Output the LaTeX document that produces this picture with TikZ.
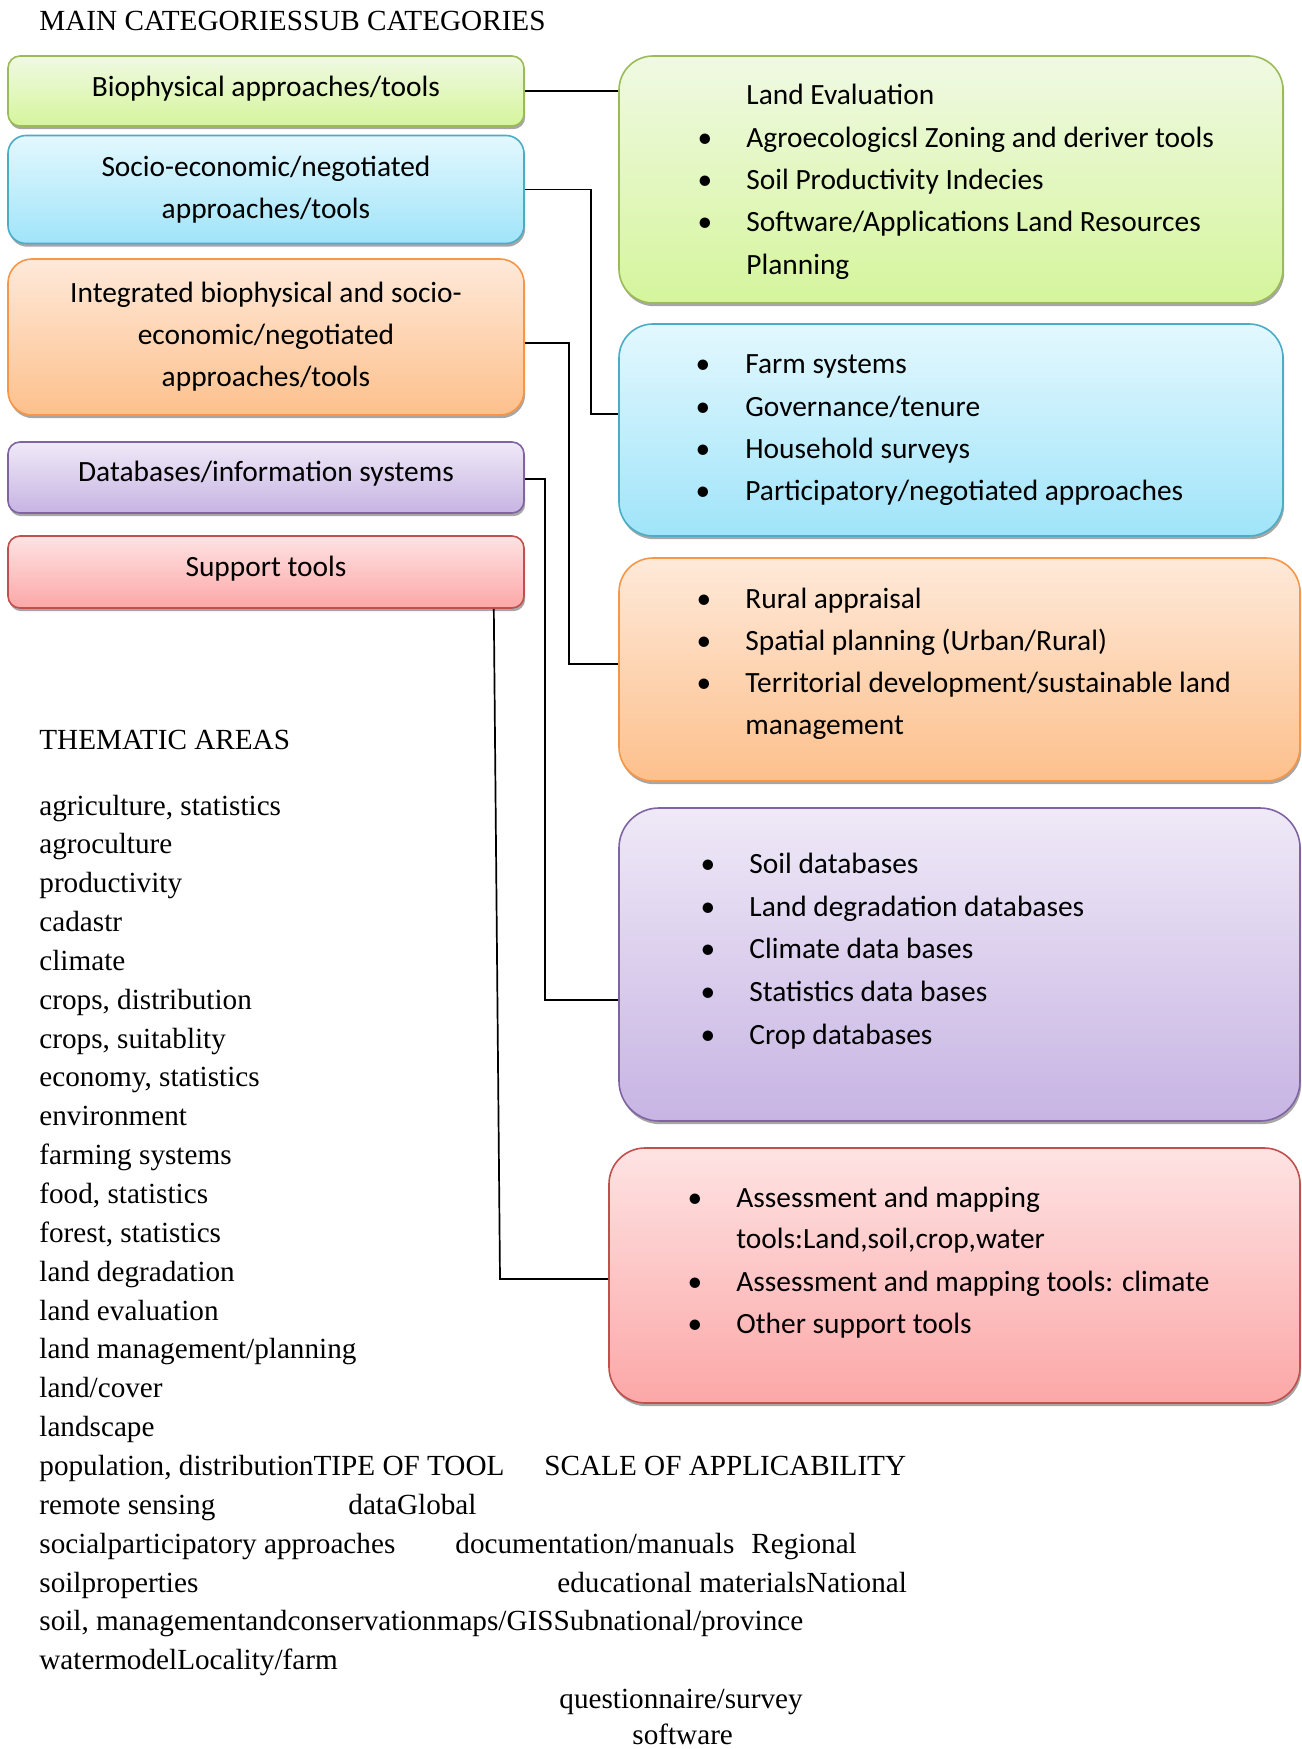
\documentclass[tikz,border=0pt]{standalone}
\usepackage{fontspec}
\setmainfont{Liberation Serif}
\newfontfamily\calfont{Carlito}
\usetikzlibrary{shadows}
\definecolor{grtop}{HTML}{F0F9E3}
\definecolor{grbot}{HTML}{D5F59C}
\definecolor{grbd}{HTML}{9BBB59}
\definecolor{bltop}{HTML}{E3F8FE}
\definecolor{blbot}{HTML}{A0E4F9}
\definecolor{blbd}{HTML}{4BACC6}
\definecolor{ortop}{HTML}{FEE9D9}
\definecolor{orbot}{HTML}{FDC08C}
\definecolor{orbd}{HTML}{F79646}
\definecolor{putop}{HTML}{EFE9F7}
\definecolor{pubot}{HTML}{C7B4E3}
\definecolor{pubd}{HTML}{8064A2}
\definecolor{retop}{HTML}{FEE3E3}
\definecolor{rebot}{HTML}{FCA7A7}
\definecolor{rebd}{HTML}{C0504D}
\tikzset{
  box/.style={rectangle, line width=0.8pt, inner sep=0pt,
    drop shadow={shadow xshift=0.6pt, shadow yshift=-1.6pt, fill=black, opacity=0.35}},
  greenbox/.style={box, draw=grbd, top color=grtop, bottom color=grbot},
  bluebox/.style={box, draw=blbd, top color=bltop, bottom color=blbot},
  orangebox/.style={box, draw=orbd, top color=ortop, bottom color=orbot},
  purplebox/.style={box, draw=pubd, top color=putop, bottom color=pubot},
  redbox/.style={box, draw=rebd, top color=retop, bottom color=rebot},
  lefttext/.style={font={\calfont\fontsize{14.7pt}{21pt}\selectfont}, align=center, text=black},
  oneline/.style={text height=9pt, text depth=5pt},
  item/.style={anchor=base west, inner sep=0pt, font={\calfont\fontsize{14.7pt}{21pt}\selectfont}},
  bul/.style={anchor=base, inner sep=0pt, font={\calfont\fontsize{14.7pt}{21pt}\selectfont}},
  plain/.style={anchor=base west, inner sep=0pt, font={\fontsize{14.6pt}{18pt}\selectfont}},
  link/.style={draw=black, line width=0.85pt},
}
\begin{document}
\begin{tikzpicture}[x=0.5pt, y=-0.5pt]
\useasboundingbox (0,0) rectangle (1301,1749);
\fill[white] (0,0) rectangle (1301,1749);

% title
\node[plain] (title) at (39,31) {MAIN CATEGORIESSUB CATEGORIES};

% left boxes
\node[greenbox, rounded corners=6pt, minimum width=258pt, minimum height=35pt, lefttext, text height=9.5pt, text depth=4pt] (g1) at (266,91) {Biophysical approaches/tools};
\node[bluebox, rounded corners=9pt, minimum width=258pt, minimum height=54pt, lefttext] (b1) at (266,189.5) {Socio-economic/negotiated\\approaches/tools};
\node[orangebox, rounded corners=12pt, minimum width=258pt, minimum height=78pt, lefttext] (o1) at (266,337) {Integrated biophysical and socio-\\economic/negotiated\\approaches/tools};
\node[purplebox, rounded corners=6pt, minimum width=258pt, minimum height=35.5pt, lefttext, oneline] (p1) at (266,477.5) {Databases/information systems};
\node[redbox, rounded corners=6pt, minimum width=258pt, minimum height=36pt, lefttext, oneline] (r1) at (266,572) {Support tools};

% right boxes
\node[greenbox, rounded corners=17pt, minimum width=332pt, minimum height=123.5pt] (A) at (951,179.5) {};
\node[bluebox, rounded corners=17pt, minimum width=332pt, minimum height=106pt] (B) at (951,430) {};
\node[orangebox, rounded corners=17pt, minimum width=340.5pt, minimum height=111.5pt] (C) at (959.5,669.5) {};
\node[purplebox, rounded corners=20pt, minimum width=340.5pt, minimum height=156.5pt] (D) at (959.5,964.5) {};
\node[redbox, rounded corners=18pt, minimum width=345.5pt, minimum height=127.5pt] (E) at (954.5,1275.5) {};

% green box text
\node[item] (a0) at (746,105) {Land Evaluation};
\node[bul] (ab1) at (705,148) {•};
\node[item] (a1) at (746,148) {Agroecologicsl Zoning and deriver tools};
\node[bul] (ab2) at (705,190) {•};
\node[item] (a2) at (746,190) {Soil Productivity Indecies};
\node[bul] (ab3) at (705,232) {•};
\node[item] (a3) at (746,232) {Software/Applications Land Resources};
\node[item] (a4) at (746,275) {Planning};

% blue box text
\node[bul] (bb1) at (703,373) {•};
\node[item] (bt1) at (745,373) {Farm systems};
\node[bul] (bb2) at (703,416) {•};
\node[item] (bt2) at (745,416) {Governance/tenure};
\node[bul] (bb3) at (703,458) {•};
\node[item] (bt3) at (745,458) {Household surveys};
\node[bul] (bb4) at (703,500) {•};
\node[item] (bt4) at (745,500) {Participatory/negotiated approaches};

% orange box text
\node[bul] (cb1) at (704,608) {•};
\node[item] (ct1) at (745,608) {Rural appraisal};
\node[bul] (cb2) at (704,650) {•};
\node[item] (ct2) at (745,650) {Spatial planning (Urban/Rural)};
\node[bul] (cb3) at (704,692) {•};
\node[item] (ct3) at (745,692) {Territorial development/sustainable land};
\node[item] (ct4) at (745,734) {management};

% purple box text
\node[bul] (db1) at (708,873) {•};
\node[item] (dt1) at (749,873) {Soil databases};
\node[bul] (db2) at (708,916) {•};
\node[item] (dt2) at (749,916) {Land degradation databases};
\node[bul] (db3) at (708,958.5) {•};
\node[item] (dt3) at (749,958.5) {Climate data bases};
\node[bul] (db4) at (708,1001) {•};
\node[item] (dt4) at (749,1001) {Statistics data bases};
\node[bul] (db5) at (708,1044.5) {•};
\node[item] (dt5) at (749,1044.5) {Crop databases};

% red box text
\node[bul] (eb1) at (695,1207) {•};
\node[item] (et1) at (736,1207) {Assessment and mapping};
\node[item] (et2) at (736,1248) {tools:Land,soil,crop,water};
\node[bul] (eb3) at (695,1291) {•};
\node[item] (et3) at (736,1291) {Assessment and mapping tools: climate};
\node[bul] (eb4) at (695,1333) {•};
\node[item] (et4) at (736,1333) {Other support tools};

% connectors
\coordinate (jb1) at (591,189.5);
\coordinate (jb2) at (591,414);
\coordinate (jo1) at (569,343);
\coordinate (jo2) at (569,664);
\coordinate (jp1) at (545,479);
\coordinate (jp2) at (545,1000);
\coordinate (jr) at (500,1279);
\draw[link] (g1.east) -- (g1.east -| A.west);
\draw[link] (b1.east) -- (jb1) -- (jb2) -- (jb2 -| B.west);
\draw[link] (o1.east |- jo1) -- (jo1) -- (jo2) -- (jo2 -| C.west);
\draw[link] (p1.east |- jp1) -- (jp1) -- (jp2) -- (jp2 -| D.west);
\draw[link] ([xshift=-15.5pt]r1.south east) -- (jr) -- (jr -| E.west);

% thematic areas
\node[plain] (them) at (39,749) {THEMATIC AREAS};
\foreach \t [count=\i from 0] in {{agriculture, statistics},agroculture,productivity,cadastr,climate,{crops, distribution},{crops, suitablity},{economy, statistics},environment,farming systems,{food, statistics},{forest, statistics},land degradation,land evaluation,land management/planning,land/cover,landscape}
  \node[plain] (th\i) at (39,{815+38.85*\i}) {\t};
\node[plain] (th17) at (39,1475.5) {population, distributionTIPE OF TOOL};
\node[plain] (sc17) at (544,1475.5) {SCALE OF APPLICABILITY};
\node[plain] (th18) at (39,1514.3) {remote sensing};
\node[plain] (tt18) at (348,1514.3) {dataGlobal};
\node[plain] (th19) at (39,1553.2) {socialparticipatory approaches};
\node[plain] (tt19) at (455,1553.2) {documentation/manuals};
\node[plain] (sc19) at (751,1553.2) {Regional};
\node[plain] (th20) at (39,1592) {soilproperties};
\node[plain] (tt20) at (557,1592) {educational materialsNational};
\node[plain] (th21) at (39,1630.9) {soil, managementandconservationmaps/GISSubnational/province};
\node[plain] (th22) at (39,1669.7) {watermodelLocality/farm};
\node[plain] (tt23) at (559,1708.6) {questionnaire/survey};
\node[plain] (tt24) at (632,1744) {software};
\end{tikzpicture}
\end{document}
